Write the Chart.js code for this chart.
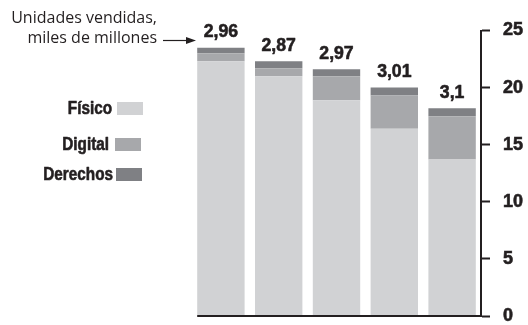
<!DOCTYPE html>
<html>
<head>
<meta charset="utf-8">
<script src="https://cdn.jsdelivr.net/npm/chart.js@4/dist/chart.umd.min.js"></script>
<style>
  html, body { margin: 0; padding: 0; background: #fff; }
  #wrap { width: 528px; height: 325px; }
</style>
</head>
<body>
<div id="wrap"><canvas id="ventas" width="528" height="325"></canvas></div>
<script>
'use strict';

// periodos (no se rotulan en el eje)
var periodos = ['1', '2', '3', '4', '5'];

// ingresos por formato (escala del eje derecho)
var fisico    = [22.3, 21.0, 18.9, 16.4, 13.7];
var digital   = [0.7, 0.7, 2.1, 2.9, 3.8];
var derechos  = [0.5, 0.6, 0.6, 0.7, 0.7];

// unidades vendidas, miles de millones (rótulos sobre cada barra)
var unidades  = [2.96, 2.87, 2.97, 3.01, 3.1];

var ticksEje  = [0, 5, 10, 15, 20, 25];

var TINTA = '#231f20';
var NEGRITA = '"Liberation Sans", Arial, sans-serif';

// texto en negrita "estrechado" y algo más grueso (no hay fuente condensada)
function textoEstrecho(ctx, txt, x, y, escala){
    ctx.save();
    ctx.translate(x, y);
    ctx.scale(escala, 1);
    ctx.lineWidth = 0.6;
    ctx.strokeStyle = ctx.fillStyle;
    ctx.lineJoin = 'round';
    ctx.strokeText(txt, 0, 0);
    ctx.fillText(txt, 0, 0);
    ctx.restore();
}

var rotulos = {
    id: 'rotulos',
    afterDraw: function(chart){
        var ctx = chart.ctx;
        var area = chart.chartArea;
        var y = chart.scales.y;
        var primero = chart.getDatasetMeta(0).data[0];
        var arriba = chart.getDatasetMeta(chart.data.datasets.length - 1).data;

        ctx.save();

        // línea base bajo las barras
        ctx.strokeStyle = TINTA;
        ctx.lineWidth = 2;
        ctx.beginPath();
        ctx.moveTo(primero.x - primero.width / 2, y.getPixelForValue(0));
        ctx.lineTo(area.right, y.getPixelForValue(0));
        ctx.stroke();

        // cifras encima de cada barra
        ctx.fillStyle = TINTA;
        ctx.font = 'bold 18px ' + NEGRITA;
        ctx.textAlign = 'center';
        ctx.textBaseline = 'alphabetic';
        for(var i = 0; i < arriba.length; i++){
            var txt = String(unidades[i]).replace('.', ',');
            textoEstrecho(ctx, txt, arriba[i].x, arriba[i].y - 10.5, 0.98);
        }

        // leyenda a la izquierda
        ctx.font = 'bold 18px ' + NEGRITA;
        ctx.textAlign = 'right';
        ctx.textBaseline = 'middle';
        var filas = [
            { txt: 112, caja: 117, y: 108.5 },
            { txt: 109, caja: 115, y: 144.5 },
            { txt: 113, caja: 116, y: 174.5 }
        ];
        chart.data.datasets.forEach(function(ds, k){
            var f = filas[k];
            ctx.fillStyle = TINTA;
            textoEstrecho(ctx, ds.label, f.txt, f.y + 1, 0.85);
            ctx.fillStyle = ds.backgroundColor;
            ctx.fillRect(f.caja, f.y - 6.5, 26, 13);
        });

        // nota con flecha
        ctx.fillStyle = TINTA;
        ctx.font = '16px "Open Sans", "Noto Sans", sans-serif';
        ctx.textAlign = 'right';
        ctx.textBaseline = 'alphabetic';
        ctx.fillText('Unidades vendidas,', 157, 23);
        ctx.fillText('miles de millones', 157, 43);
        ctx.strokeStyle = TINTA;
        ctx.lineWidth = 1.2;
        ctx.beginPath();
        ctx.moveTo(163, 40.5);
        ctx.lineTo(188, 40.5);
        ctx.stroke();
        ctx.beginPath();
        ctx.moveTo(196, 40.5);
        ctx.lineTo(186, 37);
        ctx.lineTo(186, 44);
        ctx.closePath();
        ctx.fill();

        ctx.restore();
    }
};

var serie = function(nombre, datos, color){
    return {
        label: nombre,
        data: datos,
        backgroundColor: color,
        borderWidth: 0,
        barPercentage: 0.82,
        categoryPercentage: 1
    };
};

new Chart(document.getElementById('ventas').getContext('2d'), {
    type: 'bar',
    data: {
        labels: periodos,
        datasets: [
            serie('Físico', fisico, '#d1d2d4'),
            serie('Digital', digital, '#a7a8ab'),
            serie('Derechos', derechos, '#7f8084')
        ]
    },
    options: {
        responsive: false,
        animation: false,
        layout: { padding: { left: 192, top: 30.5, right: 5, bottom: 9 } },
        plugins: { legend: { display: false }, tooltip: { enabled: false } },
        scales: {
            x: { stacked: true, display: false },
            y: {
                stacked: true,
                position: 'right',
                min: 0,
                max: 25,
                afterBuildTicks: function(axis){
                    axis.ticks = ticksEje.map(function(v){ return { value: v }; });
                },
                // ancho fijo del eje y sin margen extra por los rótulos
                afterFit: function(axis){
                    axis.width = 42;
                    axis.paddingTop = 0;
                    axis.paddingBottom = 0;
                },
                border: { display: true, color: TINTA, width: 2 },
                grid: {
                    drawOnChartArea: false,
                    drawTicks: true,
                    tickLength: 9,
                    tickColor: TINTA,
                    tickWidth: 2
                },
                ticks: {
                    color: TINTA,
                    padding: 13,
                    textStrokeColor: TINTA,
                    textStrokeWidth: 0.6,
                    font: { family: NEGRITA, size: 18, weight: 'bold' }
                }
            }
        }
    },
    plugins: [rotulos]
});
</script>
</body>
</html>
